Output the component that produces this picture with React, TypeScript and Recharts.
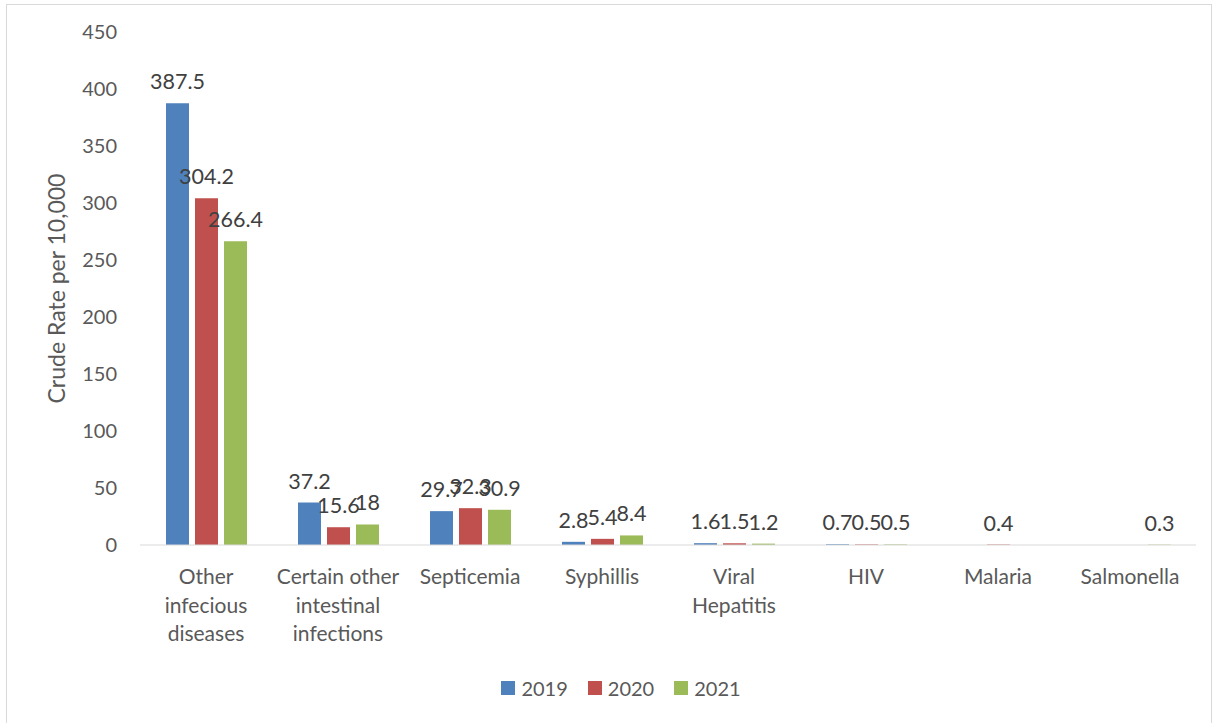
import { BarChart, Bar, XAxis, YAxis, Legend, LabelList } from "recharts";

const categories = [
  "Other infecious diseases",
  "Certain other intestinal infections",
  "Septicemia",
  "Syphillis",
  "Viral Hepatitis",
  "HIV",
  "Malaria",
  "Salmonella",
];

// how each category label wraps on the x axis
const tickLines: Record<string, string[]> = {
  "Other infecious diseases": ["Other", "infecious", "diseases"],
  "Certain other intestinal infections": ["Certain other", "intestinal", "infections"],
  "Viral Hepatitis": ["Viral", "Hepatitis"],
};

const rate2019 = [387.5, 37.2, 29.7, 2.8, 1.6, 0.7, null, null];
const rate2020 = [304.2, 15.6, 32.3, 5.4, 1.5, 0.5, 0.4, null];
const rate2021 = [266.4, 18, 30.9, 8.4, 1.2, 0.5, null, 0.3];

const yTicks = [0, 50, 100, 150, 200, 250, 300, 350, 400, 450];

const series = [
  { key: "y2019", name: "2019", color: "#4f81bd" },
  { key: "y2020", name: "2020", color: "#c0504d" },
  { key: "y2021", name: "2021", color: "#9bbb59" },
];

const data = categories.map((name, i) => ({
  name,
  y2019: rate2019[i],
  y2020: rate2020[i],
  y2021: rate2021[i],
}));

const FONT = "Lato, Carlito, Calibri, sans-serif";
const TEXT = "#595959";

function CategoryTick({ x, y, payload }: any) {
  const lines = tickLines[payload.value] ?? [payload.value];
  return (
    <text x={x} y={y} textAnchor="middle" fill={TEXT} fontSize={21} fontFamily={FONT}>
      {lines.map((line, i) => (
        <tspan key={i} x={x} y={y + 39 + i * 28.5}>
          {line}
        </tspan>
      ))}
    </text>
  );
}

function LegendContent() {
  return (
    <div
      style={{
        height: 30,
        display: "flex",
        justifyContent: "center",
        alignItems: "center",
        gap: 20,
        paddingLeft: 46,
        fontFamily: FONT,
        fontSize: 20,
        color: TEXT,
      }}
    >
      {series.map((s) => (
        <div key={s.key} style={{ display: "flex", alignItems: "center", gap: 6 }}>
          <span style={{ width: 14, height: 14, background: s.color, display: "inline-block" }} />
          <span>{s.name}</span>
        </div>
      ))}
    </div>
  );
}

const fmt = (v: any) => (v === null || v === undefined ? "" : String(v));

export default function App() {
  return (
    <div style={{ position: "absolute", left: 0, top: 0, width: 1218, height: 723, background: "#fff" }}>
      <div
        style={{
          position: "absolute",
          left: 6,
          top: 4,
          width: 1206,
          height: 740,
          border: "1px solid #d9d9d9",
          boxSizing: "border-box",
        }}
      />
      <div style={{ position: "absolute", left: 0, top: 0 }}>
        <BarChart
          width={1218}
          height={723}
          data={data}
          margin={{ top: 32, right: 22, bottom: 20, left: 0 }}
          barSize={23}
          barGap={6}
        >
          <XAxis
            dataKey="name"
            interval={0}
            height={128}
            tickLine={false}
            tickSize={0}
            tickMargin={0}
            axisLine={{ stroke: "#d9d9d9" }}
            tick={<CategoryTick />}
          />
          <YAxis
            width={140}
            domain={[0, 450]}
            ticks={yTicks}
            axisLine={false}
            tickLine={false}
            tickSize={0}
            tickMargin={23}
            tick={{ fill: TEXT, fontSize: 20, fontFamily: FONT }}
            label={{
              value: "Crude Rate per 10,000",
              angle: -90,
              position: "center",
              dx: -13,
              fill: TEXT,
              fontSize: 23,
              fontFamily: FONT,
            }}
          />
          <Legend verticalAlign="bottom" content={<LegendContent />} />
          {series.map((s) => (
            <Bar key={s.key} dataKey={s.key} name={s.name} fill={s.color} isAnimationActive={false}>
              <LabelList
                dataKey={s.key}
                position="top"
                offset={14}
                formatter={fmt}
                fill="#404040"
                fontSize={21.5}
                fontFamily={FONT}
              />
            </Bar>
          ))}
        </BarChart>
      </div>
    </div>
  );
}
